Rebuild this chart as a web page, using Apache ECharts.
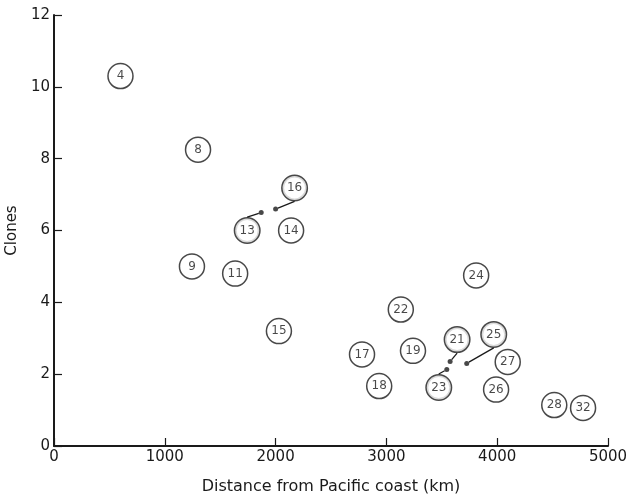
<!DOCTYPE html>
<html>
<head>
<meta charset="utf-8">
<script src="https://cdn.jsdelivr.net/npm/echarts@6/dist/echarts.min.js"></script>
<style>
  html, body { margin: 0; padding: 0; background: #fff; }
  #chart { width: 631px; height: 497px; }
</style>
</head>
<body>
<div id="chart"></div>
<script>
// populations with circled numbers at the point itself
const ids = ['4', '8', '9', '11', '14', '15', '17', '18', '19', '22', '24', '26', '27', '28', '32']
const distance = [600, 1300, 1245, 1635, 2140, 2030, 2780, 2935, 3240, 3130, 3810, 3990, 4095, 4515, 4775]
const clones = [10.3, 8.25, 5.0, 4.8, 6.0, 3.2, 2.55, 1.67, 2.65, 3.8, 4.75, 1.57, 2.34, 1.14, 1.06]

// populations whose circled number sits off the point with a leader line
const leaderIds = ['13', '16', '21', '23', '25']
const leaderDistance = [1870, 2000, 3575, 3545, 3725]
const leaderClones = [6.5, 6.6, 2.35, 2.13, 2.3]
const leaderOffsets = [[-14, 18], [19, -21], [7, -22], [-8, 18], [27, -29]]

const xTicks = [0, 1000, 2000, 3000, 4000, 5000]
const yTicks = [0, 2, 4, 6, 8, 10, 12]

const font = 'DejaVu Sans'
const ink = '#1a1a1a'

const chart = echarts.init(document.getElementById('chart'))

const circleLabel = {
  show: true,
  formatter: (p) => p.data[2],
  color: ink,
  fontFamily: font,
  fontSize: 12,
  textBorderWidth: 0,
}

chart.setOption({
  animation: false,
  grid: { left: 54, right: 23, top: 15, bottom: 51, outerBoundsMode: 'none' },
  xAxis: {
    type: 'value',
    min: xTicks[0],
    max: xTicks[xTicks.length - 1],
    interval: 1000,
    name: 'Distance from Pacific coast (km)',
    nameLocation: 'middle',
    nameGap: 33,
    nameTextStyle: { color: ink, fontFamily: font, fontSize: 16 },
    axisLine: { lineStyle: { color: ink, width: 2 } },
    axisTick: { inside: true, length: 8, lineStyle: { color: ink, width: 1.2 } },
    axisLabel: { color: ink, fontFamily: font, fontSize: 15, margin: 4, formatter: (v) => String(v) },
    splitLine: { show: false },
  },
  yAxis: {
    type: 'value',
    min: yTicks[0],
    max: yTicks[yTicks.length - 1],
    interval: 2,
    name: 'Clones',
    nameLocation: 'middle',
    nameGap: 34,
    nameTextStyle: { color: ink, fontFamily: font, fontSize: 15 },
    axisLine: { lineStyle: { color: ink, width: 2 } },
    axisTick: { inside: true, length: 8, lineStyle: { color: ink, width: 1.2 } },
    axisLabel: { color: ink, fontFamily: font, fontSize: 15, margin: 4 },
    splitLine: { show: false },
  },
  series: [
    {
      type: 'scatter',
      symbol: 'circle',
      symbolSize: 25,
      itemStyle: { color: '#fff', borderColor: ink, borderWidth: 1.5 },
      label: Object.assign({ position: 'inside' }, circleLabel),
      data: ids.map((id, i) => [distance[i], clones[i], id]),
    },
    {
      type: 'scatter',
      symbol: 'circle',
      symbolSize: 5,
      itemStyle: { color: ink },
      label: Object.assign({
        position: 'inside',
        width: 24,
        height: 24,
        lineHeight: 24,
        padding: 0,
        align: 'center',
        verticalAlign: 'middle',
        backgroundColor: '#fff',
        borderColor: ink,
        borderWidth: 1.5,
        borderRadius: 12,
        textShadowBlur: 0,
        shadowBlur: 0,
      }, circleLabel),
      labelLine: { show: true, lineStyle: { color: ink, width: 1.3 } },
      labelLayout: (p) => ({ dx: leaderOffsets[p.dataIndex][0], dy: leaderOffsets[p.dataIndex][1] }),
      data: leaderIds.map((id, i) => [leaderDistance[i], leaderClones[i], id]),
    },
  ],
})
</script>
</body>
</html>
